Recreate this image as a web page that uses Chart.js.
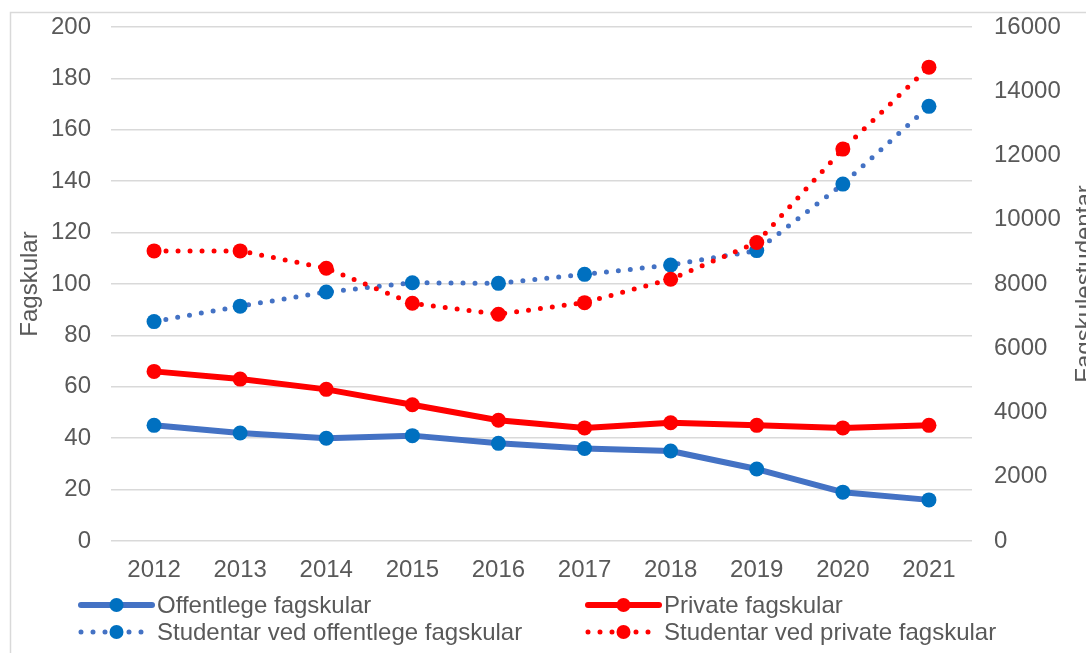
<!DOCTYPE html>
<html>
<head>
<meta charset="utf-8">
<script src="https://cdn.jsdelivr.net/npm/chart.js@4/dist/chart.umd.min.js"></script>
<style>
  html, body { margin: 0; padding: 0; background: #fff; }
  #wrap { width: 1086px; height: 653px; position: relative; }
</style>
</head>
<body>
<div id="wrap"><canvas id="fagskule-chart"></canvas></div>
<script>
const years = ['2012', '2013', '2014', '2015', '2016', '2017', '2018', '2019', '2020', '2021'];
const offentlegeSkular = [45, 42, 40, 41, 38, 36, 35, 28, 19, 16];
const privateSkular = [66, 63, 59, 53, 47, 44, 46, 45, 44, 45];
const studentarOffentlege = [6830, 7310, 7750, 8040, 8020, 8300, 8590, 9040, 11110, 13530];
const studentarPrivate = [9030, 9030, 8490, 7400, 7060, 7420, 8150, 9290, 12200, 14750];
const seriesNames = [
  'Offentlege fagskular',
  'Private fagskular',
  'Studentar ved offentlege fagskular',
  'Studentar ved private fagskular'
];

const FONT = "'Liberation Sans', Arial, sans-serif";
const FONT_SIZE = 24;
const TEXT = '#595959';
const GRID = '#d9d9d9';
const BLUE_LINE = '#4472c4';
const BLUE_DOT = '#0070c0';
const RED = '#ff0000';

// frame, right axis title and the two-column legend
const extras = {
  id: 'extras',
  beforeDraw(chart) {
    const ctx = chart.ctx;
    ctx.save();
    ctx.strokeStyle = GRID;
    ctx.lineWidth = 1.5;
    ctx.beginPath();
    ctx.moveTo(10.5, chart.height + 5);
    ctx.lineTo(10.5, 12.5);
    ctx.lineTo(chart.width + 5, 12.5);
    ctx.stroke();
    ctx.restore();
  },
  afterDraw(chart) {
    const ctx = chart.ctx;
    const area = chart.chartArea;
    ctx.save();
    ctx.fillStyle = TEXT;
    ctx.font = `${FONT_SIZE}px ${FONT}`;
    ctx.textAlign = 'center';
    ctx.textBaseline = 'middle';
    ctx.translate(1085, (area.top + area.bottom) / 2);
    ctx.rotate(-Math.PI / 2);
    ctx.fillText('Fagskulestudentar', 0, 0);
    ctx.restore();

    const cols = [81, 588];
    const rows = [605, 632];
    chart.data.datasets.forEach((ds, i) => {
      const x0 = cols[i % 2];
      const y = rows[Math.floor(i / 2)];
      const x1 = x0 + 71;
      ctx.save();
      ctx.strokeStyle = ds.borderColor;
      ctx.lineWidth = ds.borderWidth;
      ctx.lineCap = 'round';
      if (ds.borderDash) ctx.setLineDash(ds.borderDash);
      ctx.beginPath();
      ctx.moveTo(x0, y);
      ctx.lineTo(x1, y);
      ctx.stroke();
      ctx.setLineDash([]);
      ctx.fillStyle = ds.pointBackgroundColor;
      ctx.beginPath();
      ctx.arc((x0 + x1) / 2, y, 7, 0, Math.PI * 2);
      ctx.fill();
      ctx.fillStyle = TEXT;
      ctx.font = `${FONT_SIZE}px ${FONT}`;
      ctx.textAlign = 'left';
      ctx.textBaseline = 'middle';
      ctx.fillText(ds.label, x1 + 5, y + 1);
      ctx.restore();
    });
  }
};

function lineSet(label, data, lineColor, dotColor, axis, dotted, order) {
  return {
    label,
    data,
    yAxisID: axis,
    borderColor: lineColor,
    borderWidth: dotted ? 5 : 6,
    borderDash: dotted ? [0, 12] : undefined,
    borderCapStyle: 'round',
    borderJoinStyle: 'round',
    pointRadius: 7.5,
    pointBackgroundColor: dotColor,
    pointBorderColor: dotColor,
    pointBorderWidth: 0,
    tension: 0,
    fill: false,
    order
  };
}

function fixWidth(w) {
  return (s) => {
    s.width = w;
    s.paddingTop = 0;
    s.paddingBottom = 0;
  };
}

new Chart(document.getElementById('fagskule-chart'), {
  type: 'line',
  data: {
    labels: years,
    datasets: [
      lineSet(seriesNames[0], offentlegeSkular, BLUE_LINE, BLUE_DOT, 'y', false, 3),
      lineSet(seriesNames[1], privateSkular, RED, RED, 'y', false, 2),
      lineSet(seriesNames[2], studentarOffentlege, BLUE_LINE, BLUE_DOT, 'y2', true, 1),
      lineSet(seriesNames[3], studentarPrivate, RED, RED, 'y2', true, 0)
    ]
  },
  options: {
    responsive: true,
    maintainAspectRatio: false,
    animation: false,
    layout: { padding: { top: 27, bottom: 66, left: 0, right: 0 } },
    plugins: {
      legend: { display: false },
      tooltip: { enabled: false }
    },
    scales: {
      x: {
        offset: true,
        grid: { display: false },
        border: { display: false },
        ticks: { color: TEXT, font: { family: FONT, size: FONT_SIZE }, padding: 7, maxRotation: 0 },
        afterFit: (s) => { s.height = 46; }
      },
      y: {
        position: 'left',
        min: 0,
        max: 200,
        ticks: { stepSize: 20, color: TEXT, font: { family: FONT, size: FONT_SIZE }, padding: 20 },
        grid: { color: GRID, lineWidth: 1.5, drawTicks: false },
        border: { display: false },
        title: {
          display: true,
          text: 'Fagskular',
          color: TEXT,
          font: { family: FONT, size: FONT_SIZE },
          padding: { top: 16 }
        },
        afterFit: fixWidth(111)
      },
      y2: {
        position: 'right',
        min: 0,
        max: 16000,
        ticks: {
          stepSize: 2000,
          color: TEXT,
          font: { family: FONT, size: FONT_SIZE },
          padding: 22,
          callback: (v) => String(v)
        },
        grid: { drawOnChartArea: false, drawTicks: false },
        border: { display: false },
        afterFit: fixWidth(114)
      }
    }
  },
  plugins: [extras]
});
</script>
</body>
</html>
